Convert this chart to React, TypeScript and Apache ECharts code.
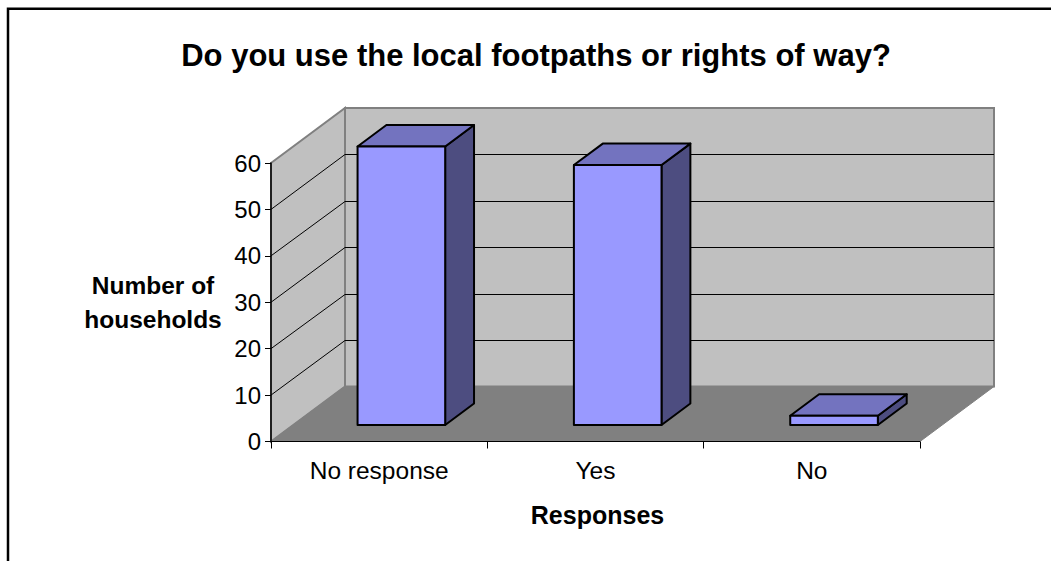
import React, { useEffect, useRef } from "react";
import * as echarts from "echarts";

const categories = ["No response", "Yes", "No"];
const values = [60, 56, 2];
const yTicks = [0, 10, 20, 30, 40, 50, 60];
const titleText = "Do you use the local footpaths or rights of way?";
const yName = "Number of\nhouseholds";
const xName = "Responses";

const DEPTH_X = 74;
const DEPTH_Y = -55;
const BAR_FRAC = 0.405;

export default function App() {
  const ref = useRef<HTMLDivElement>(null);
  useEffect(() => {
    const chart = echarts.init(ref.current!, null, { renderer: "svg" });
    const font = '"Liberation Sans", Arial, sans-serif';

    const wallItem = (_p: any, api: any) => {
      const c0 = api.coord([0, 0]);
      const top = api.coord([0, 60]);
      const size = api.size([1, 0]);
      const o = [c0[0] - size[0] / 2, c0[1]];
      const right = o[0] + size[0] * categories.length;
      const d = (x: number, y: number) => [x + DEPTH_X, y + DEPTH_Y];
      const wallStyle = { fill: "#c0c0c0", stroke: "#808080", lineWidth: 2 };
      return {
        type: "group",
        children: [
          { type: "polygon", shape: { points: [d(o[0], top[1]), d(right, top[1]), d(right, o[1]), d(o[0], o[1])] }, style: wallStyle },
          { type: "polygon", shape: { points: [[o[0], top[1]], d(o[0], top[1]), d(o[0], o[1]), o] }, style: wallStyle },
          { type: "polygon", shape: { points: [o, d(o[0], o[1]), d(right, o[1]), [right, o[1]]] }, style: { fill: "#808080", stroke: "#808080", lineWidth: 1 } },
          { type: "line", shape: { x1: o[0], y1: o[1], x2: right, y2: o[1] }, style: { stroke: "#000", lineWidth: 1 } },
        ],
      };
    };

    const gridItem = (_p: any, api: any) => {
      const v = api.value(0);
      const p0 = api.coord([0, v]);
      const size = api.size([1, 0]);
      const p = [p0[0] - size[0] / 2, p0[1]];
      const right = p[0] + size[0] * categories.length;
      const backY = Math.round(p[1] + DEPTH_Y) + 0.5;
      return {
        type: "polyline",
        shape: { points: [p, [p[0] + DEPTH_X, backY], [right + DEPTH_X, backY]] },
        style: { stroke: "#000", lineWidth: 1, fill: "none" },
      };
    };

    const barItem = (_p: any, api: any) => {
      const i = api.value(0);
      const v = api.value(1);
      const c = api.coord([i, 0]);
      const t = api.coord([i, v]);
      const w = api.size([1, 0])[0];
      const bw = w * BAR_FRAC;
      const ox = DEPTH_X * 0.3;
      const oy = DEPTH_Y * 0.3;
      const dx = DEPTH_X * 0.39;
      const dy = DEPTH_Y * 0.39;
      const x0 = c[0] - bw / 2 + ox;
      const x1 = x0 + bw;
      const yb = c[1] + oy;
      const yt = t[1] + oy;
      const line = { stroke: "#000", lineWidth: 2, lineJoin: "round" };
      return {
        type: "group",
        children: [
          { type: "polygon", shape: { points: [[x1, yt], [x1 + dx, yt + dy], [x1 + dx, yb + dy], [x1, yb]] }, style: { fill: "#4d4d80", ...line } },
          { type: "polygon", shape: { points: [[x0, yt], [x0 + dx, yt + dy], [x1 + dx, yt + dy], [x1, yt]] }, style: { fill: "#7373bf", ...line } },
          { type: "polygon", shape: { points: [[x0, yt], [x1, yt], [x1, yb], [x0, yb]] }, style: { fill: "#9999ff", ...line } },
        ],
      };
    };

    chart.setOption({
      animation: false,
      backgroundColor: "#fff",
      title: {
        text: titleText,
        left: 531,
        top: 35,
        textAlign: "center",
        textStyle: { fontFamily: font, fontSize: 31, fontWeight: "bold", color: "#000" },
      },
      graphic: [
        { type: "polyline", silent: true, shape: { points: [[8, 561], [8, 8.75], [1051, 8.75]] }, style: { stroke: "#000", lineWidth: 2.5, fill: "none" } },
      ],
      grid: { left: 271, top: 163, width: 649, height: 278.5 },
      xAxis: {
        type: "category",
        data: categories,
        axisLine: { show: false },
        axisTick: { show: true, length: 7, alignWithLabel: false, lineStyle: { color: "#000" } },
        axisLabel: { fontFamily: font, fontSize: 24.5, color: "#000", margin: 16 },
        name: xName,
        nameLocation: "middle",
        nameGap: 61,
        nameTextStyle: { fontFamily: font, fontSize: 25, fontWeight: "bold", color: "#000", padding: [0, 0, 0, 4] },
        splitLine: { show: false },
        z: 5,
      },
      yAxis: {
        type: "value",
        min: 0,
        max: 60,
        interval: 10,
        axisLine: { show: true, lineStyle: { color: "#000", width: 1.5 } },
        axisTick: { show: true, length: 6, lineStyle: { color: "#000" } },
        axisLabel: { fontFamily: font, fontSize: 24, color: "#000", margin: 10 },
        splitLine: { show: false },
        name: yName,
        nameLocation: "middle",
        nameRotate: 0,
        nameGap: 118,
        nameTextStyle: { fontFamily: font, fontSize: 24.5, fontWeight: "bold", color: "#000", lineHeight: 34, align: "center", padding: [0, 0, 4, 0] },
        z: 5,
      },
      series: [
        { type: "custom", silent: true, z: 1, renderItem: wallItem, data: [[0]], encode: { x: 0 }, clip: false },
        { type: "custom", silent: true, z: 2, renderItem: gridItem, data: yTicks.slice(1, -1).map((v) => [v]), dimensions: ["v"], encode: { y: 0 }, clip: false },
        { type: "custom", silent: true, z: 3, renderItem: barItem, data: values.map((v, i) => [i, v]), encode: { x: 0, y: 1 }, clip: false },
      ],
    });
    return () => chart.dispose();
  }, []);
  return <div ref={ref} style={{ width: 1051, height: 561, position: "absolute", left: 0, top: 0 }} />;
}
